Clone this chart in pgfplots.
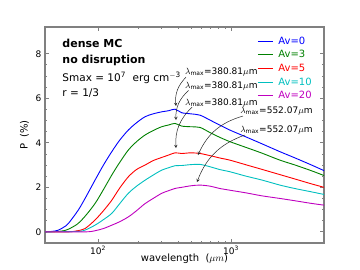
\documentclass[border=0pt]{standalone}
\usepackage{pgfplots}
\pgfplotsset{compat=1.18}
\usepackage{fontspec}
\setmainfont{DejaVu Sans}
\definecolor{mblue}{RGB}{0,0,255}
\definecolor{mgreen}{RGB}{0,128,0}
\definecolor{mred}{RGB}{255,0,0}
\definecolor{mcyan}{RGB}{0,191,191}
\definecolor{mmag}{RGB}{191,0,191}
\pgfplotstableread{
x y
40 0.0
45 0.02
50 0.07
55 0.2
60 0.38
71 0.97
80 1.5
95 2.32
110 3.0
127 3.6
145 4.1
169 4.57
195 4.9
226 5.17
260 5.3
301 5.39
340 5.44
380 5.51
426 5.35
500 5.3
585 5.24
700 5.01
820 4.80
982 4.57
1300 4.26
1700 3.96
2334 3.6
3000 3.33
4000 3.01
5000 2.75
}\avzero
\pgfplotstableread{
x y
40 0.0
50 0.02
55 0.05
60 0.12
70 0.35
80 0.7
95 1.27
110 1.9
127 2.55
145 3.1
169 3.67
195 4.05
226 4.35
260 4.55
301 4.72
340 4.8
380 4.87
426 4.75
500 4.72
585 4.69
700 4.45
820 4.25
982 4.05
1300 3.79
1700 3.54
2334 3.22
3000 3.01
4000 2.75
5000 2.53
}\avthree
\pgfplotstableread{
x y
40 0.0
60 0.0
70 0.05
80 0.15
95 0.53
110 0.95
127 1.42
145 1.95
169 2.47
195 2.8
226 3.0
260 3.2
301 3.34
340 3.45
380 3.55
426 3.52
500 3.55
585 3.52
700 3.42
820 3.32
982 3.22
1300 3.01
1700 2.81
2334 2.57
3000 2.38
4000 2.16
5000 2.0
}\avfive
\pgfplotstableread{
x y
40 0.0
70 0.02
80 0.08
95 0.3
110 0.55
127 0.83
145 1.25
169 1.73
195 2.05
226 2.32
260 2.55
301 2.77
340 2.88
380 2.97
426 2.98
500 3.02
585 3.03
700 2.92
820 2.8
982 2.7
1300 2.5
1700 2.33
2334 2.1
3000 1.95
4000 1.8
5000 1.68
}\avten
\pgfplotstableread{
x y
40 0.0
80 0.0
95 0.05
110 0.15
127 0.3
145 0.45
169 0.67
195 0.95
226 1.27
260 1.5
301 1.73
340 1.85
380 1.95
426 2.0
500 2.07
585 2.1
700 2.05
820 1.95
982 1.87
1300 1.75
1700 1.62
2334 1.5
3000 1.4
4000 1.28
5000 1.2
}\avtwenty
\begin{document}
\begin{tikzpicture}
\path[use as bounding box] (0pt,0pt) rectangle (360pt,270pt);
\begin{axis}[
  at={(45pt,27pt)}, anchor=south west,
  scale only axis, width=279pt, height=216pt,
  xmode=log, xmin=40, xmax=5000, ymin=-0.5, ymax=9.2,
  xtick={100,1000}, xticklabels={10\textsuperscript{2},10\textsuperscript{3}},
  ytick={0,2,4,6,8}, minor y tick num=3,
  /pgf/number format/assume math mode=true,
  tick align=inside,
  axis line style={gray, line width=1.2pt},
  every tick/.style={gray, line width=0.8pt},
  major tick length=4pt, minor tick length=2pt,
  ticklabel style={font=\fontsize{9}{10}\selectfont},
  xlabel={wavelength\ \ ($\mu m$)},
  xlabel style={at={(rel axis cs:0.5,0)}, anchor=base, yshift=-19pt},
  ylabel={P\ \ (\%)},
  label style={font=\fontsize{10}{12}\selectfont},
  legend style={draw=none, fill=none, at={(0.985,0.975)}, anchor=north east,
    font=\fontsize{10}{12}\selectfont, row sep=0.8pt,
    nodes={inner xsep=5pt}},
  legend cell align=left,
  legend image code/.code={\draw[#1, line width=1pt] (0pt,0pt) -- (15pt,0pt);},
]
\addplot[mblue, line width=0.9pt, smooth] table {\avzero};
\addlegendentry{\textcolor{mblue}{Av=0}}
\addplot[mgreen, line width=0.9pt, smooth] table {\avthree};
\addlegendentry{\textcolor{mgreen}{Av=3}}
\addplot[mred, line width=0.9pt, smooth] table {\avfive};
\addlegendentry{\textcolor{mred}{Av=5}}
\addplot[mcyan, line width=0.9pt, smooth] table {\avten};
\addlegendentry{\textcolor{mcyan}{Av=10}}
\addplot[mmag, line width=0.9pt, smooth] table {\avtwenty};
\addlegendentry{\textcolor{mmag}{Av=20}}

\node[anchor=base west, font=\fontsize{11}{13}\selectfont\bfseries] at (rel axis cs:0.05,0.903) {dense MC};
\node[anchor=base west, font=\fontsize{11}{13}\selectfont\bfseries] at (rel axis cs:0.05,0.829) {no disruption};
\node[anchor=base west, font=\fontsize{10.5}{12}\selectfont] at (rel axis cs:0.05,0.75) {Smax = 10\textsuperscript{7}\ \ erg cm\textsuperscript{$-$3}};
\node[anchor=base west, font=\fontsize{10.5}{12}\selectfont] at (rel axis cs:0.05,0.676) {r = 1/3};

\tikzset{lab/.style={anchor=west, inner sep=0pt, font=\fontsize{9}{10}\selectfont}}
\node[lab] at (axis cs:451,7.18) {$\lambda_{\rm max}$=380.81$\mu$m};
\node[lab] at (axis cs:451,6.55) {$\lambda_{\rm max}$=380.81$\mu$m};
\node[lab] at (axis cs:451,5.78) {$\lambda_{\rm max}$=380.81$\mu$m};
\node[lab] at (axis cs:1170,5.42) {$\lambda_{\rm max}$=552.07$\mu$m};
\node[lab] at (axis cs:1170,4.57) {$\lambda_{\rm max}$=552.07$\mu$m};
\tikzset{arr/.style={-stealth, black!85, line width=0.5pt}}
\draw[arr] (axis cs:459,6.95) to[bend right=25] (axis cs:386,5.65);
\draw[arr] (axis cs:480,6.35) to[bend right=25] (axis cs:386,5.02);
\draw[arr] (axis cs:510,5.6) to[bend right=25] (axis cs:386,3.76);
\draw[arr] (axis cs:1230,5.2) to[bend right=25] (axis cs:565,3.45);
\draw[arr] (axis cs:1274,4.35) to[bend right=25] (axis cs:555,2.23);
\end{axis}
\end{tikzpicture}
\end{document}
